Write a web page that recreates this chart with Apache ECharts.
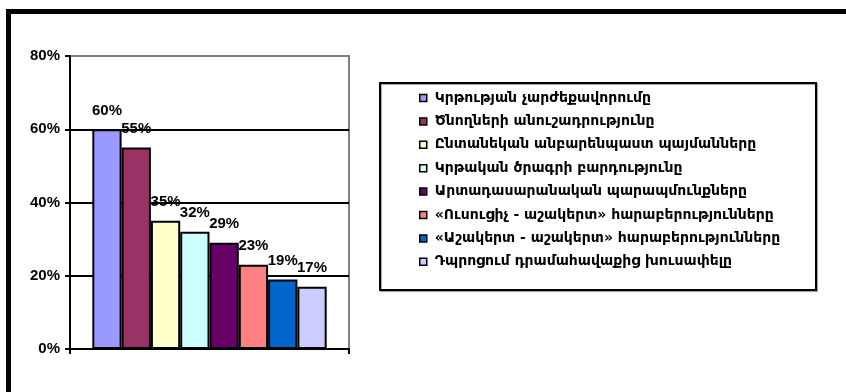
<!DOCTYPE html>
<html>
<head>
<meta charset="utf-8">
<script src="https://cdn.jsdelivr.net/npm/echarts@6/dist/echarts.min.js"></script>
<style>
  html, body { margin: 0; padding: 0; background: #fff; }
  #chart { width: 846px; height: 392px; }
</style>
</head>
<body>
<div id="chart"></div>
<script>
// Factors named by respondents, share of answers (%)
const factorNames = [
  'Կրթության չարժեքավորումը',
  'Ծնողների անուշադրությունը',
  'Ընտանեկան անբարենպաստ պայմանները',
  'Կրթական ծրագրի բարդությունը',
  'Արտադասարանական պարապմունքները',
  '«Ուսուցիչ - աշակերտ» հարաբերությունները',
  '«Աշակերտ - աշակերտ» հարաբերությունները',
  'Դպրոցում դրամահավաքից խուսափելը'
];
const factorShares = [60, 55, 35, 32, 29, 23, 19, 17];
const barColors = ['#9999FF', '#993366', '#FFFFCC', '#CCFFFF', '#660066', '#FF8080', '#0066CC', '#CCCCFF'];
const yTicks = [0, 20, 40, 60, 80];

const chart = echarts.init(document.getElementById('chart'), null, { renderer: 'canvas' });

const series = factorNames.map((name, i) => ({
  name: name,
  type: 'bar',
  data: [factorShares[i]],
  barGap: '0%',
  barCategoryGap: '16%',
  itemStyle: { color: barColors[i], borderColor: '#000', borderWidth: 2 },
  label: {
    show: true,
    position: 'top',
    distance: 11,
    formatter: '{c}%',
    color: '#000',
    fontFamily: 'Liberation Sans, Arial, sans-serif',
    fontWeight: 'bold',
    fontSize: 15
  }
}));

chart.setOption({
  animation: false,
  backgroundColor: '#fff',
  graphic: [
    // outer frame
    { type: 'rect', shape: { x: 8.5, y: 11.5, width: 900, height: 500 },
      style: { fill: 'none', stroke: '#000', lineWidth: 5 }, z: 0 },
    // legend box
    { type: 'rect', shape: { x: 380, y: 83, width: 436, height: 207 },
      style: { fill: '#fff', stroke: '#000', lineWidth: 2,
               shadowColor: 'rgba(0,0,0,0.35)', shadowOffsetX: 1, shadowOffsetY: 1, shadowBlur: 1 }, z: 1 }
  ],
  grid: { left: 70, right: 497, top: 56, bottom: 43, show: true, borderColor: '#808080', borderWidth: 2, backgroundColor: 'transparent' },
  legend: {
    orient: 'vertical',
    left: 419,
    top: 91,
    padding: 0,
    itemWidth: 7,
    itemHeight: 7,
    itemGap: 9.4,
    icon: 'rect',
    itemStyle: { borderColor: '#000', borderWidth: 1.5 },
    textStyle: { fontFamily: 'DejaVu Sans, sans-serif', fontWeight: 'bold', fontSize: 14, lineHeight: 14, color: '#000', padding: [0, 0, 0, 3] },
    z: 5
  },
  xAxis: {
    type: 'category',
    data: [''],
    axisLine: { lineStyle: { color: '#000', width: 2 } },
    axisTick: { show: true, length: 5, lineStyle: { color: '#000', width: 2 } },
    axisLabel: { show: false }
  },
  yAxis: {
    type: 'value',
    min: yTicks[0],
    max: yTicks[yTicks.length - 1],
    interval: 20,
    axisLine: { show: true, lineStyle: { color: '#000', width: 2 } },
    axisTick: { show: true, length: 5, lineStyle: { color: '#000', width: 2 } },
    axisLabel: { formatter: '{value}%', color: '#000', fontFamily: 'Liberation Sans, Arial, sans-serif', fontWeight: 'bold', fontSize: 15, margin: 10 },
    splitLine: { show: true, lineStyle: { color: ['#000', '#000', '#000', '#000', '#808080'], width: 2 } }
  },
  series: series
});
</script>
</body>
</html>
